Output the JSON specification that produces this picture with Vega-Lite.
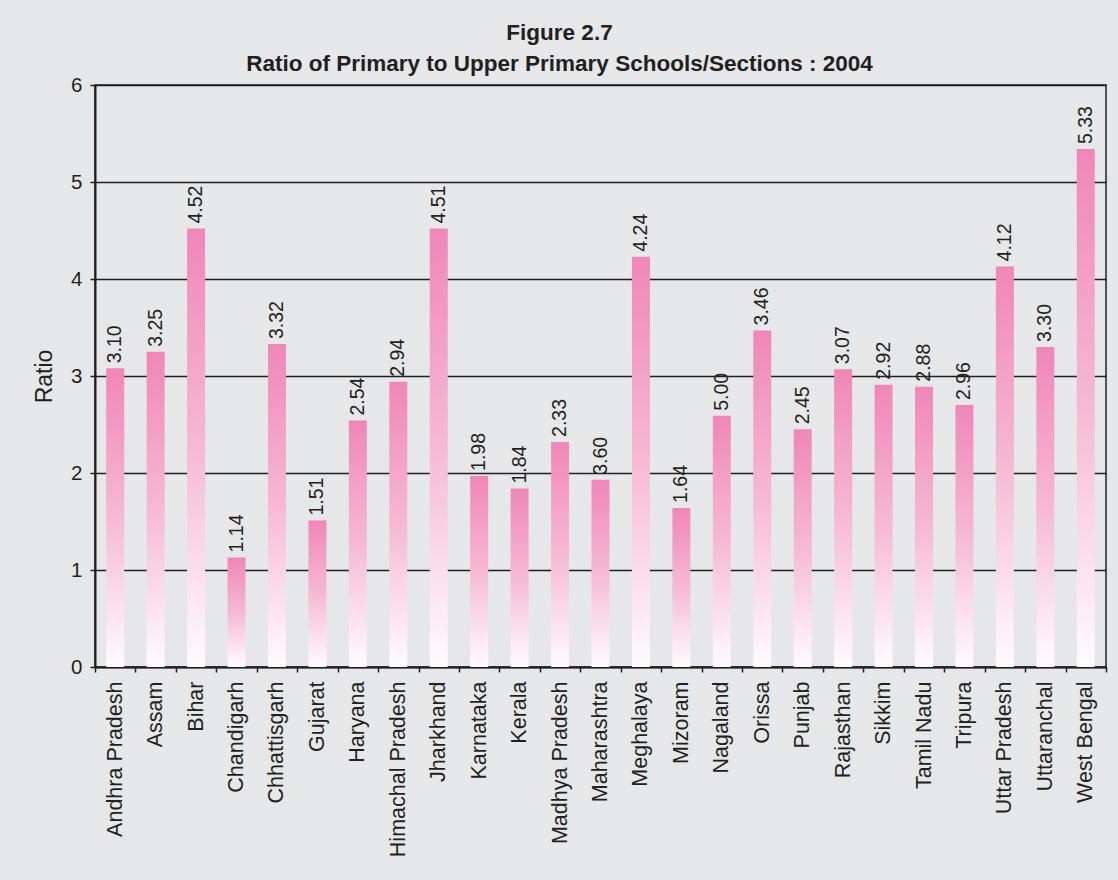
{
  "$schema": "https://vega.github.io/schema/vega-lite/v6.json",
  "autosize": "none",
  "width": 1011,
  "height": 582,
  "padding": {"left": 95, "top": 85, "right": 12, "bottom": 213},
  "background": "#e6e7e8",
  "title": {
    "text": ["Figure 2.7", "Ratio of Primary to Upper Primary Schools/Sections : 2004"],
    "font": "Liberation Sans",
    "fontSize": 22.5,
    "fontWeight": "bold",
    "color": "#231f20",
    "lineHeight": 31,
    "anchor": "middle",
    "frame": "group",
    "dx": -41,
    "baseline": "bottom",
    "offset": -23
  },
  "config": {
    "view": {"stroke": "#231f20", "strokeWidth": 1.5},
    "axis": {
      "labelFont": "Liberation Sans",
      "titleFont": "Liberation Sans",
      "labelColor": "#231f20",
      "titleColor": "#231f20",
      "domainColor": "#231f20",
      "tickColor": "#231f20",
      "gridColor": "#231f20",
      "domainWidth": 2,
      "tickWidth": 1.5,
      "gridWidth": 1.5,
      "gridOpacity": 1,
      "tickSize": 5
    }
  },
  "data": {
    "values": [
      {"state": "Andhra Pradesh", "ratio": 3.08, "label": "3.10"},
      {"state": "Assam", "ratio": 3.25, "label": "3.25"},
      {"state": "Bihar", "ratio": 4.52, "label": "4.52"},
      {"state": "Chandigarh", "ratio": 1.13, "label": "1.14"},
      {"state": "Chhattisgarh", "ratio": 3.33, "label": "3.32"},
      {"state": "Gujarat", "ratio": 1.51, "label": "1.51"},
      {"state": "Haryana", "ratio": 2.54, "label": "2.54"},
      {"state": "Himachal Pradesh", "ratio": 2.94, "label": "2.94"},
      {"state": "Jharkhand", "ratio": 4.52, "label": "4.51"},
      {"state": "Karnataka", "ratio": 1.97, "label": "1.98"},
      {"state": "Kerala", "ratio": 1.84, "label": "1.84"},
      {"state": "Madhya Pradesh", "ratio": 2.32, "label": "2.33"},
      {"state": "Maharashtra", "ratio": 1.93, "label": "3.60"},
      {"state": "Meghalaya", "ratio": 4.23, "label": "4.24"},
      {"state": "Mizoram", "ratio": 1.64, "label": "1.64"},
      {"state": "Nagaland", "ratio": 2.59, "label": "5.00"},
      {"state": "Orissa", "ratio": 3.47, "label": "3.46"},
      {"state": "Punjab", "ratio": 2.45, "label": "2.45"},
      {"state": "Rajasthan", "ratio": 3.07, "label": "3.07"},
      {"state": "Sikkim", "ratio": 2.91, "label": "2.92"},
      {"state": "Tamil Nadu", "ratio": 2.89, "label": "2.88"},
      {"state": "Tripura", "ratio": 2.70, "label": "2.96"},
      {"state": "Uttar Pradesh", "ratio": 4.13, "label": "4.12"},
      {"state": "Uttaranchal", "ratio": 3.30, "label": "3.30"},
      {"state": "West Bengal", "ratio": 5.34, "label": "5.33"}
    ]
  },
  "encoding": {
    "x": {
      "field": "state",
      "type": "nominal",
      "sort": null,
      "scale": {"paddingInner": 0, "paddingOuter": 0},
      "axis": {
        "title": null,
        "labelAngle": 270,
        "labelFontSize": 21.5,
        "labelPadding": 9,
        "tickBand": "extent",
        "grid": false
      }
    },
    "y": {
      "field": "ratio",
      "type": "quantitative",
      "scale": {"domain": [0, 6], "nice": false},
      "axis": {
        "title": "Ratio",
        "titleFontSize": 23,
        "titleFontWeight": "normal",
        "titlePadding": 14,
        "labelFontSize": 20.5,
        "labelPadding": 8,
        "values": [0, 1, 2, 3, 4, 5, 6],
        "format": "d",
        "grid": true
      }
    }
  },
  "layer": [
    {
      "mark": {
        "type": "bar",
        "size": 18,
        "color": {
          "gradient": "linear",
          "x1": 0, "y1": 0, "x2": 0, "y2": 1,
          "stops": [
            {"offset": 0, "color": "#f086b8"},
            {"offset": 0.5, "color": "#f6b9d4"},
            {"offset": 1, "color": "#fffbfd"}
          ]
        }
      }
    },
    {
      "mark": {
        "type": "text",
        "angle": 270,
        "align": "left",
        "baseline": "middle",
        "dx": 5,
        "font": "Liberation Sans",
        "fontSize": 19.5,
        "color": "#231f20"
      },
      "encoding": {"text": {"field": "label"}}
    }
  ]
}
